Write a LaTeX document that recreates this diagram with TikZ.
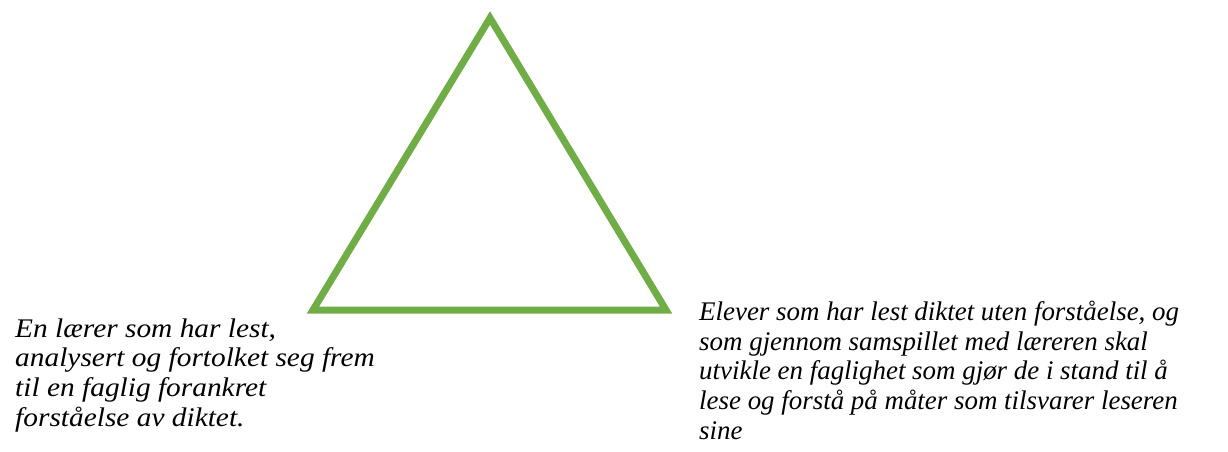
\documentclass[tikz,border=0pt]{standalone}
\usepackage{fontspec}
\setmainfont{Liberation Serif}
\definecolor{trigreen}{HTML}{70AD47}
\begin{document}
\begin{tikzpicture}[x=1pt,y=-1pt,
  tri/.style={draw=trigreen,line width=7pt,line join=miter},
  txt/.style={anchor=base west,inner sep=0pt,align=left,
    font=\fontsize{26pt}{28.6pt}\selectfont\itshape}]
\useasboundingbox (0,0) rectangle (1228,452);
\clip (0,0) rectangle (1228,452);
\coordinate (top) at (490,18);
\coordinate (bl) at (313,310);
\coordinate (br) at (666,310);
\draw[tri] (top) -- (bl) -- (br) -- cycle;
\node[txt,xscale=1.13,yscale=1.035,transform shape] (teacher) at (15,426) {En lærer som har lest,\\analysert og fortolket seg frem\\til en faglig forankret\\forståelse av diktet.};
\node[txt,scale=1.035,transform shape] (pupils) at (699,439) {Elever som har lest diktet uten forståelse, og\\som gjennom samspillet med læreren skal\\utvikle en faglighet som gjør de i stand til å\\lese og forstå på måter som tilsvarer leseren\\sine};
\end{tikzpicture}
\end{document}
